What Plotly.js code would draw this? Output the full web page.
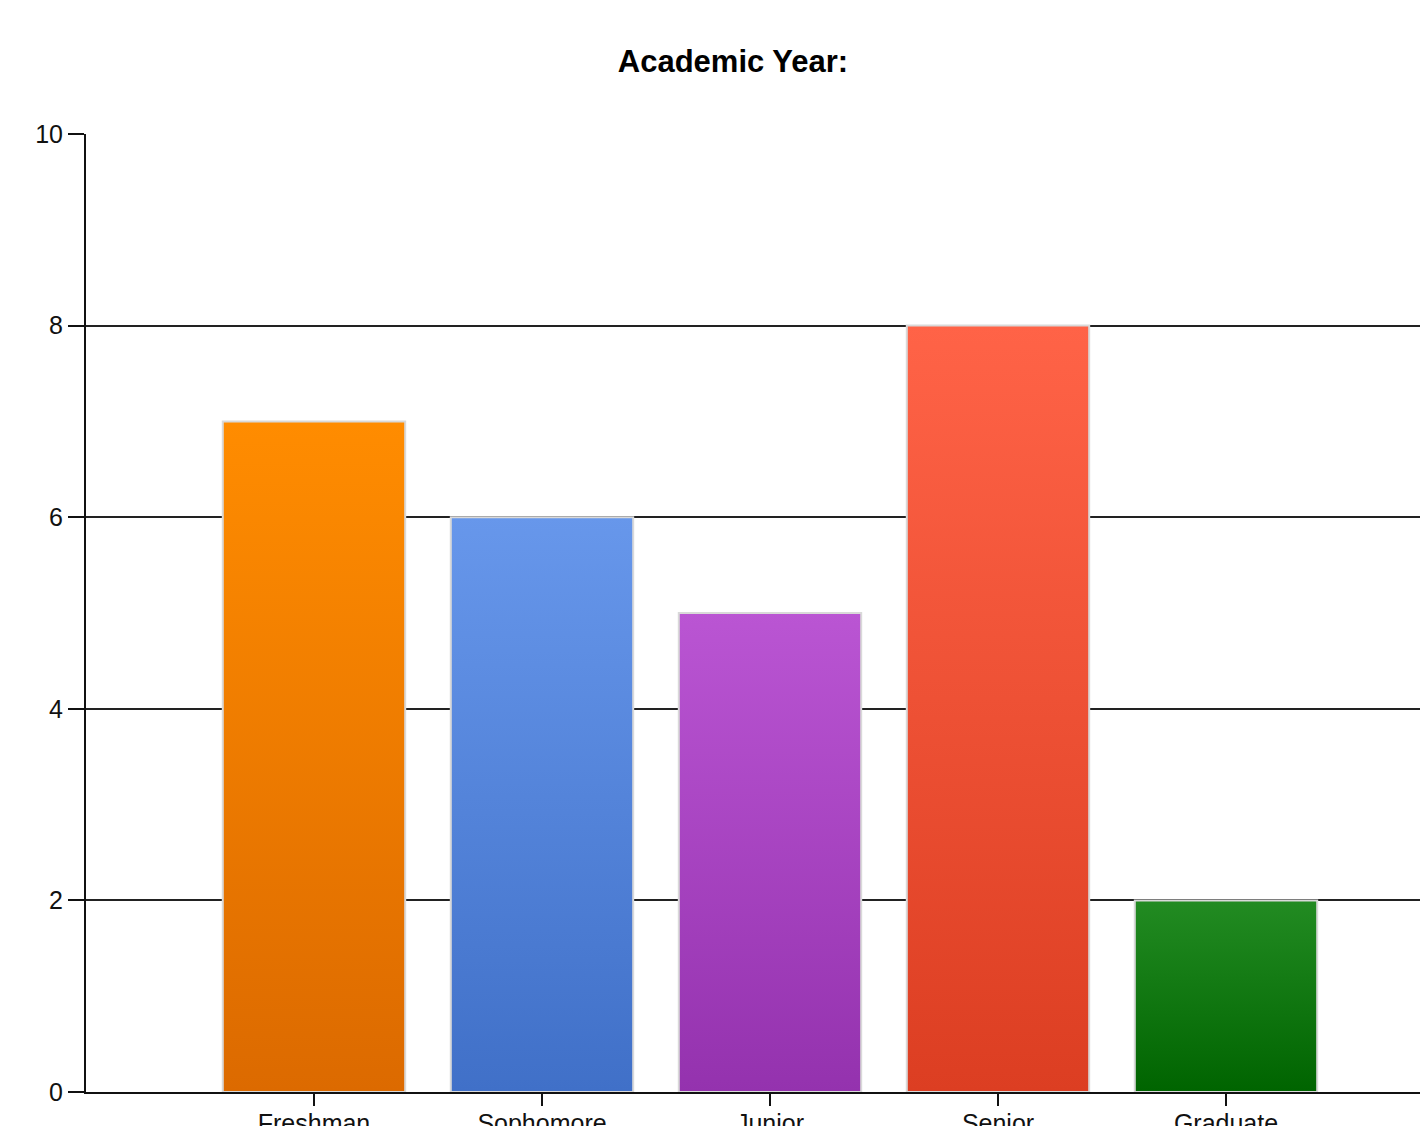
<!DOCTYPE html>
<html>
<head>
<meta charset="utf-8">
<script src="https://cdn.plot.ly/plotly-3.0.1.min.js"></script>
<style>
  html, body { margin: 0; padding: 0; background: #fff; overflow: hidden; }
  #chart { width: 1420px; height: 1126px; }
</style>
</head>
<body>
<div id="chart"></div>
<script>
const categories = ["Freshman", "Sophomore", "Junior", "Senior", "Graduate"];
const counts = [7, 6, 5, 8, 2];
const topColors = ["#FF8C00", "#6797EB", "#BA55D3", "#FF6347", "#228B22"];
const bottomColors = ["#DC6A00", "#4070C8", "#9432AE", "#DC3E22", "#006400"];
const yTicks = [0, 2, 4, 6, 8, 10];

const positions = categories.map((c, i) => i);

const trace = {
  type: "bar",
  x: positions,
  y: counts,
  width: 0.8,
  marker: { color: topColors, line: { color: "#d9d9d9", width: 2 } },
  hoverinfo: "x+y"
};

const layout = {
  width: 1420,
  height: 1126,
  margin: { l: 86, r: 0, t: 134, b: 34, pad: 0 },
  paper_bgcolor: "#ffffff",
  plot_bgcolor: "#ffffff",
  showlegend: false,
  font: { family: "Liberation Sans, Arial, sans-serif", size: 25, color: "#111" },
  title: {
    text: "<b>Academic Year:</b>",
    font: { family: "Liberation Sans, Arial, sans-serif", size: 31, color: "#000" },
    x: 733 / 1420, xanchor: "center", xref: "container",
    y: 1 - 61 / 1126, yanchor: "middle", yref: "container"
  },
  xaxis: {
    range: [-1, -1 + (1420 - 86) / 228],
    tickmode: "array",
    tickvals: positions,
    ticktext: categories,
    ticks: "outside", ticklen: 12, tickwidth: 2, tickcolor: "#111",
    ticklabelstandoff: -4,
    showline: true, linecolor: "#111", linewidth: 2,
    showgrid: false, zeroline: false,
    tickfont: { size: 25 }
  },
  yaxis: {
    range: [0, 10],
    tickmode: "array",
    tickvals: yTicks,
    ticktext: yTicks.map(String),
    ticks: "outside", ticklen: 16, tickwidth: 2, tickcolor: "#111",
    showline: true, linecolor: "#111", linewidth: 2,
    showgrid: true, gridcolor: "#222", gridwidth: 2,
    zeroline: false,
    tickfont: { size: 25 }
  },
  bargap: 0.2
};

Plotly.newPlot("chart", [trace], layout, { displayModeBar: false, staticPlot: true }).then(gd => {
  const svg = gd.querySelector("svg.main-svg");
  const NS = "http://www.w3.org/2000/svg";
  let defs = svg.querySelector("defs");
  if (!defs) { defs = document.createElementNS(NS, "defs"); svg.insertBefore(defs, svg.firstChild); }
  topColors.forEach((c, i) => {
    const g = document.createElementNS(NS, "linearGradient");
    g.setAttribute("id", "barGrad" + i);
    g.setAttribute("x1", "0"); g.setAttribute("y1", "0");
    g.setAttribute("x2", "0"); g.setAttribute("y2", "1");
    const s1 = document.createElementNS(NS, "stop");
    s1.setAttribute("offset", "0"); s1.setAttribute("stop-color", c);
    const s2 = document.createElementNS(NS, "stop");
    s2.setAttribute("offset", "1"); s2.setAttribute("stop-color", bottomColors[i]);
    g.appendChild(s1); g.appendChild(s2);
    defs.appendChild(g);
  });
  gd.querySelectorAll(".bars .point path").forEach((p, i) => {
    p.style.fill = "url(#barGrad" + i + ")";
  });
});
</script>
</body>
</html>
